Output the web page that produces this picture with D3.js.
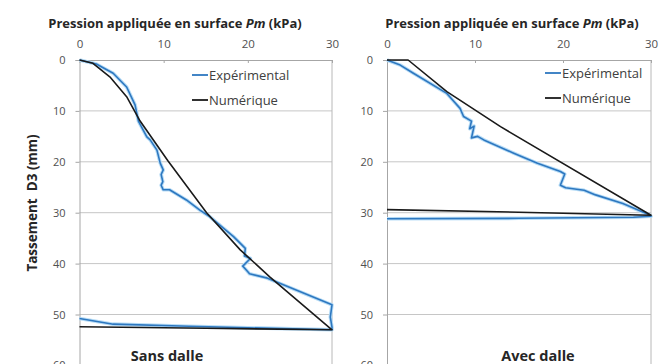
<!DOCTYPE html>
<html><head><meta charset="utf-8">
<script src="https://cdn.jsdelivr.net/npm/d3@7"></script>
<style>body{margin:0;background:#fff}svg{display:block}</style>
</head><body>
<svg id="c" width="662" height="364"></svg>
<script>
// ---- data ----
const pressureTicks = [0, 10, 20, 30];
const settlementTicks = [0, 10, 20, 30, 40, 50, 60];
const seriesNames = ["Expérimental", "Numérique"];
const panelTitles = ["Sans dalle", "Avec dalle"];
// [pressure kPa, settlement mm]
const sansDalleExp = [[0,0],[2.0,0.8],[4.0,2.6],[5.6,5.3],[6.6,8.8],[7.0,12.0],[8.0,15.1],[8.4,15.7],[9.2,17.7],[9.6,20.3],[9.95,21.6],[9.7,22.5],[9.9,23.9],[9.7,24.6],[9.95,25.5],[10.7,25.5],[12.7,27.5],[14.3,29.5],[15.5,30.8],[18.3,34.7],[19.7,37.0],[19.6,38.5],[20.3,39.0],[19.4,40.5],[20.0,41.6],[20.2,42.0],[22.2,42.8],[30,48.1],[29.8,50.5],[30,52.5],[30,53.0],[20,52.6],[13,52.3],[4,51.9],[0,50.8]];
const sansDalleNum = [[0,0],[1.6,0.65],[3.6,3.3],[5.6,7.2],[7.2,12.0],[10.5,19.8],[15.1,30.0],[19.1,37.3],[22.6,42.6],[30,53.0],[15,52.7],[0,52.4]];
const avecDalleExp = [[0,0],[1.5,1.0],[3.0,2.6],[6.75,6.5],[8.3,9.5],[8.7,11.1],[9.6,12.0],[9.4,13.5],[9.9,13.0],[9.6,15.3],[10.3,15.0],[11.0,15.7],[14.4,18.3],[17.1,20.3],[19.7,21.9],[20.2,22.4],[19.7,24.6],[20.3,25.1],[22.4,25.6],[23.7,26.5],[26.8,28.2],[29.8,30.4],[30,30.7],[28,30.9],[15,31.1],[0,31.2]];
const avecDalleNum = [[0,0],[2.4,0],[6.8,6.2],[12.9,13.1],[30,30.5],[15,29.9],[0,29.4]];

const panels = [
  {x0: 79.5, x1: 332, exp: sansDalleExp, num: sansDalleNum, title: panelTitles[0], legX: 192, legY: 75, titleX: 175, labelX: 167},
  {x0: 387, x1: 651, exp: avecDalleExp, num: avecDalleNum, title: panelTitles[1], legX: 545, legY: 73, titleX: 512, labelX: 538}
];
const colors = {exp: "#2e78c0", num: "#1a1a1a"};
const font = "'Open Sans', 'DejaVu Sans', sans-serif";

const svg = d3.select("#c");
const y = d3.scaleLinear().domain([0, 60]).range([60, 365.4]);

panels.forEach((p, i) => {
  const x = d3.scaleLinear().domain([0, 30]).range([p.x0, p.x1]);
  const g = svg.append("g");
  // gridlines
  g.selectAll("line.grid").data(settlementTicks.filter(t => t > 0)).enter().append("line")
    .attr("x1", p.x0).attr("x2", p.x1).attr("y1", d => y(d)).attr("y2", d => y(d))
    .attr("stroke", "#c6c6c6").attr("stroke-width", 1);
  // right border
  g.append("line").attr("x1", p.x1).attr("x2", p.x1).attr("y1", y(0)).attr("y2", 364)
    .attr("stroke", "#b8b8b8");
  // y axis
  const ya = g.append("g").attr("transform", `translate(${p.x0},0)`)
    .call(d3.axisLeft(y).tickValues(settlementTicks).tickSize(4).tickPadding(10).tickFormat(d3.format("d")));
  ya.select(".domain").attr("stroke", "#a6a6a6");
  ya.selectAll(".tick line").attr("stroke", "#a6a6a6");
  ya.selectAll("text").attr("font-family", font).attr("font-size", 11).attr("fill", "#505050");
  // x axis (top)
  const xa = g.append("g").attr("transform", `translate(0,${y(0)})`)
    .call(d3.axisTop(x).tickValues(pressureTicks).tickSizeInner(-3).tickSizeOuter(0).tickPadding(12).tickFormat(d3.format("d")));
  xa.select(".domain").attr("stroke", "#a6a6a6");
  xa.selectAll(".tick line").attr("stroke", "#a6a6a6");
  xa.selectAll("text").attr("font-family", font).attr("font-size", 11.5).attr("fill", "#505050");
  // x title
  const t = g.append("text").attr("x", p.titleX).attr("y", 27.5)
    .attr("text-anchor", "middle").attr("font-family", font).attr("font-size", 13)
    .attr("font-weight", "bold").attr("fill", "#262626");
  t.append("tspan").text("Pression appliquée en surface ");
  t.append("tspan").attr("font-style", "italic").text("Pm");
  t.append("tspan").text(" (kPa)");

  const line = d3.line().x(d => x(d[0])).y(d => y(d[1]));
  const cp = "clip" + i;
  svg.append("clipPath").attr("id", cp).append("rect")
    .attr("x", p.x0 - 2).attr("y", 56).attr("width", p.x1 - p.x0 + 4).attr("height", 310);
  const lg = g.append("g").attr("clip-path", `url(#${cp})`);
  lg.append("path").datum(p.exp).attr("d", line).attr("fill", "none")
    .attr("stroke", "#b7dcf6").attr("stroke-width", 3.6).attr("stroke-linejoin", "round");
  lg.append("path").datum(p.exp).attr("d", line).attr("fill", "none")
    .attr("stroke", colors.exp).attr("stroke-width", 1.6).attr("stroke-linejoin", "round");
  lg.append("path").datum(p.num).attr("d", line).attr("fill", "none")
    .attr("stroke", colors.num).attr("stroke-width", 1.6).attr("stroke-linejoin", "round");

  // legend
  const keys = [["exp", seriesNames[0]], ["num", seriesNames[1]]];
  keys.forEach((k, j) => {
    const ly = p.legY + j * 25;
    g.append("line").attr("x1", p.legX).attr("x2", p.legX + 16).attr("y1", ly).attr("y2", ly)
      .attr("stroke", colors[k[0]]).attr("stroke-width", 1.8);
    g.append("text").attr("x", p.legX + 17).attr("y", ly + 4.5).attr("font-family", font)
      .attr("font-size", 13).attr("fill", "#404040").text(k[1]);
  });
  // panel label
  g.append("text").attr("x", p.labelX).attr("y", 361).attr("text-anchor", "middle")
    .attr("font-family", font).attr("font-size", 14.5).attr("font-weight", "bold")
    .attr("fill", "#262626").text(p.title);
});

// y title
svg.append("text").attr("transform", "translate(37,203) rotate(-90)").attr("text-anchor", "middle")
  .attr("font-family", font).attr("font-size", 13.5).attr("font-weight", "bold")
  .attr("fill", "#262626").attr("xml:space", "preserve").text("Tassement  D3 (mm)");
</script>
</body></html>
